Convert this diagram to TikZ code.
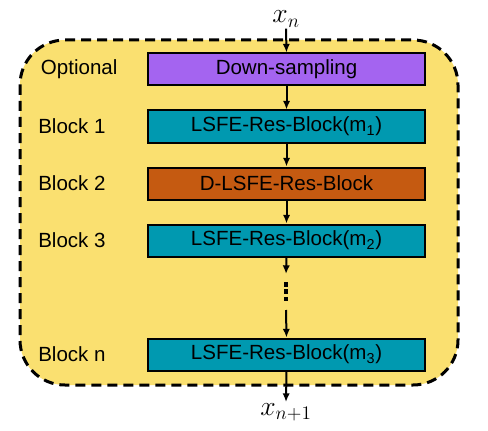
\documentclass[tikz,border=0pt]{standalone}
\usepackage{fontspec}
\setmainfont{Liberation Sans}
\usetikzlibrary{positioning,arrows.meta}
\definecolor{frameyellow}{RGB}{250,224,112}
\definecolor{downpurple}{RGB}{164,100,240}
\definecolor{lsfeteal}{RGB}{0,153,176}
\definecolor{dlsfeorange}{RGB}{197,90,17}

\begin{document}
\begin{tikzpicture}[
		x=0.75pt, y=-0.75pt,
		node distance=17.25pt,
		blk/.style={draw=black, line width=1.5pt, minimum width=208pt, minimum height=24pt,
			inner sep=0pt, font=\fontsize{15.4}{18}\selectfont},
		lbl/.style={anchor=west, inner sep=0pt, font=\fontsize{15.4}{18}\selectfont},
		flow/.style={line width=1.5pt, -{Latex[length=6.5pt,width=5.5pt]}},
		mathlbl/.style={inner sep=1pt, font=\fontsize{20}{24}\selectfont},
	]
		\useasboundingbox (0,0) rectangle (488,431);
		\draw[fill=frameyellow, line width=2.25pt, dash pattern=on 7.5pt off 4.5pt,
			rounded corners=33.75pt] (20,40) rectangle (458,385);
		
		\node [blk, fill=downpurple] (down) at (286.5,69.5) {Down-sampling};
		\node [blk, fill=lsfeteal, below=of down] (b1) {LSFE-Res-Block(m\textsubscript{1})};
		\node [blk, fill=dlsfeorange, below=of b1] (b2) {D-LSFE-Res-Block};
		\node [blk, fill=lsfeteal, below=of b2] (b3) {LSFE-Res-Block(m\textsubscript{2})};
		\node [blk, fill=lsfeteal, below=60pt of b3] (bn) {LSFE-Res-Block(m\textsubscript{3})};
		
		\coordinate (lx) at (38,0);
		\node [lbl] (lopt) at (lx |- down) {\hspace{2pt}Optional};
		\node [lbl] (l1) at (lx |- b1) {Block 1};
		\node [lbl] (l2) at (lx |- b2) {Block 2};
		\node [lbl] (l3) at (lx |- b3) {Block 3};
		\node [lbl] (ln) at (lx |- bn) {Block n};
		
		\node [mathlbl] (xin) at (286,19) {$x_n$};
		\node [mathlbl, anchor=north] (xout) at (286,402) {$x_{n+1}$};
		\coordinate (dend) at (286,274);
		\coordinate (dtop) at (286,282);
		\coordinate (dbot) at (286,302);
		\coordinate (dnext) at (286,310);
		
		\draw[flow] (xin.south) -- (down.north);
		\draw[flow] (down.south) -- (b1.north);
		\draw[flow] (b1.south) -- (b2.north);
		\draw[flow] (b2.south) -- (b3.north);
		\draw[flow] (b3.south) -- (dend);
		\draw[line width=2.4pt, dash pattern=on 3.4pt off 2.2pt] (dtop) -- (dbot);
		\draw[flow] (dnext) -- (bn.north);
		\draw[flow] (bn.south) -- (xout.north);
	\end{tikzpicture}
\end{document}
